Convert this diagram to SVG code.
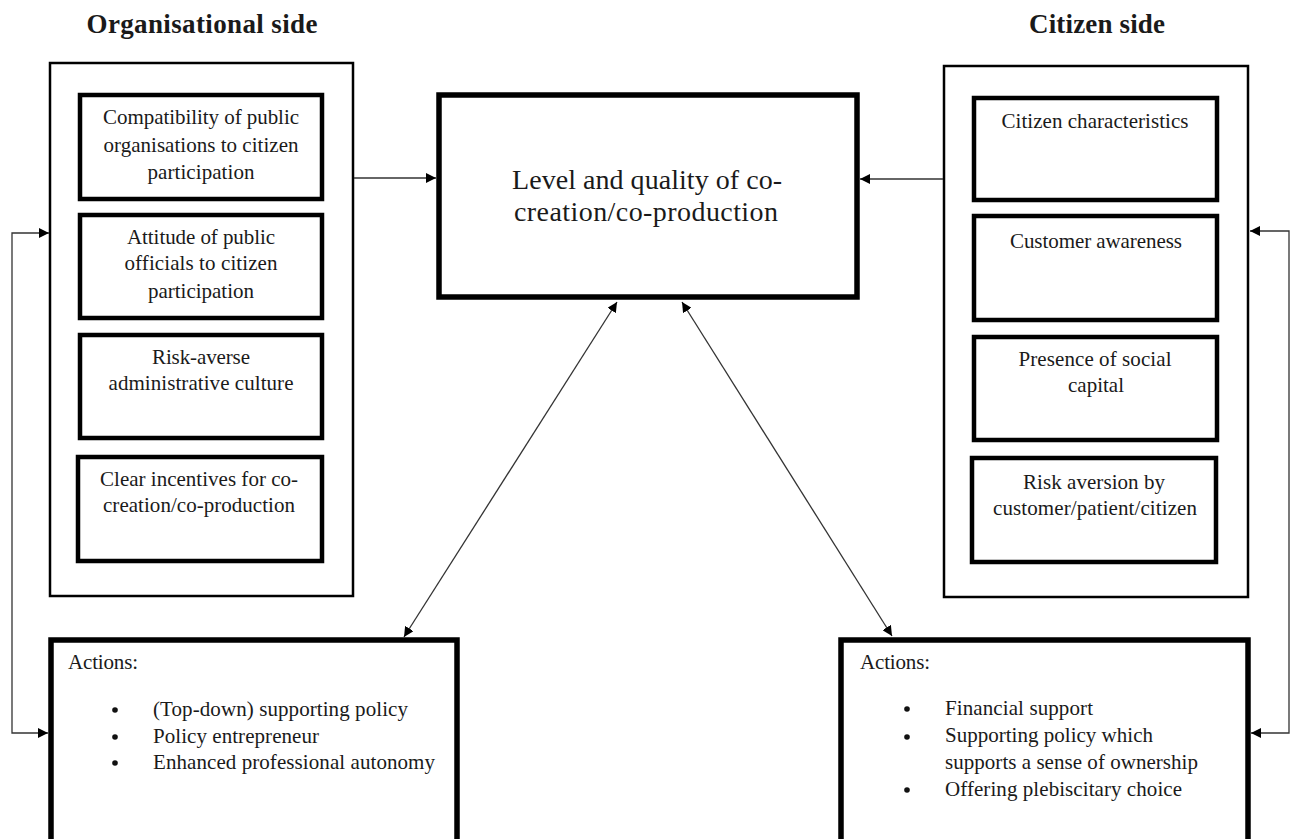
<svg xmlns="http://www.w3.org/2000/svg" width="1295" height="839" viewBox="0 0 1295 839">
  <defs>
    <marker id="arrow" viewBox="0 0 10 10" refX="10" refY="5" markerWidth="10" markerHeight="10" markerUnits="userSpaceOnUse" orient="auto-start-reverse">
      <path d="M0,0 L10,5 L0,10 Z" fill="#000"/>
    </marker>
    <style>
      text { font-family: "Liberation Serif", "Times New Roman", serif; fill: #1a1a1a; }
      .heading { font-size: 27px; font-weight: bold; text-anchor: middle; }
      .outer { fill: #fff; stroke: #000; stroke-width: 2.5; }
      .inner { fill: #fff; stroke: #000; stroke-width: 4.5; }
      .thick { fill: #fff; stroke: #000; stroke-width: 5.5; }
      .label { font-size: 21px; text-anchor: middle; }
      .center-label { font-size: 28px; text-anchor: middle; }
      .item { font-size: 21px; }
      .conn { fill: none; stroke: #333; stroke-width: 1.3; }
    </style>
  </defs>
  <rect width="1295" height="839" fill="#fff"/>

  <!-- Side headings -->
  <text class="heading" x="202" y="33" textLength="231">Organisational side</text>
  <text class="heading" x="1097" y="33" textLength="136">Citizen side</text>

  <!-- Organisational side: container and factors -->
  <g id="org-side">
    <rect class="outer" x="50" y="63" width="303" height="533"/>
  </g>
  <g id="org-compatibility">
    <rect class="inner" x="80" y="95" width="242" height="104"/>
    <text class="label" x="201" y="124" textLength="196">Compatibility of public</text>
    <text class="label" x="201" y="152" textLength="195">organisations to citizen</text>
    <text class="label" x="201" y="179" textLength="107">participation</text>
  </g>
  <g id="org-attitude">
    <rect class="inner" x="80" y="215" width="242" height="103"/>
    <text class="label" x="201" y="244" textLength="148">Attitude of public</text>
    <text class="label" x="201" y="270" textLength="153">officials to citizen</text>
    <text class="label" x="201" y="298" textLength="106">participation</text>
  </g>
  <g id="org-risk">
    <rect class="inner" x="80" y="335" width="242" height="103"/>
    <text class="label" x="201" y="364" textLength="98">Risk-averse</text>
    <text class="label" x="201" y="390" textLength="185">administrative culture</text>
  </g>
  <g id="org-incentives">
    <rect class="inner" x="78" y="457" width="244" height="104"/>
    <text class="label" x="199" y="486" textLength="198">Clear incentives for co-</text>
    <text class="label" x="199" y="512" textLength="192">creation/co-production</text>
  </g>

  <!-- Central outcome -->
  <g id="outcome">
    <rect class="thick" x="439" y="95" width="418" height="202"/>
    <text class="center-label" x="647" y="189" textLength="270">Level and quality of co-</text>
    <text class="center-label" x="646" y="221" textLength="264">creation/co-production</text>
  </g>

  <!-- Citizen side: container and factors -->
  <g id="citizen-side">
    <rect class="outer" x="944" y="66" width="304" height="531"/>
  </g>
  <g id="cit-characteristics">
    <rect class="inner" x="974" y="98" width="243" height="102"/>
    <text class="label" x="1095" y="128" textLength="187">Citizen characteristics</text>
  </g>
  <g id="cit-awareness">
    <rect class="inner" x="974" y="216" width="243" height="104"/>
    <text class="label" x="1096" y="248" textLength="172">Customer awareness</text>
  </g>
  <g id="cit-social-capital">
    <rect class="inner" x="974" y="337" width="243" height="103"/>
    <text class="label" x="1095" y="366" textLength="153">Presence of social</text>
    <text class="label" x="1096" y="392" textLength="56">capital</text>
  </g>
  <g id="cit-risk">
    <rect class="inner" x="972" y="458" width="244" height="104"/>
    <text class="label" x="1094" y="489" textLength="142">Risk aversion by</text>
    <text class="label" x="1095" y="515" textLength="204">customer/patient/citizen</text>
  </g>

  <!-- Organisational actions -->
  <g id="org-actions">
    <rect class="thick" x="51" y="640" width="406" height="220"/>
    <text class="item" x="68" y="669" textLength="70">Actions:</text>
    <circle cx="115" cy="710" r="2.8" fill="#111"/>
    <circle cx="115" cy="737" r="2.8" fill="#111"/>
    <circle cx="115" cy="763" r="2.8" fill="#111"/>
    <text class="item" x="153" y="716" textLength="255">(Top-down) supporting policy</text>
    <text class="item" x="153" y="743" textLength="166">Policy entrepreneur</text>
    <text class="item" x="153" y="769" textLength="282">Enhanced professional autonomy</text>
  </g>

  <!-- Citizen actions -->
  <g id="cit-actions">
    <rect class="thick" x="841" y="640" width="407" height="220"/>
    <text class="item" x="860" y="669" textLength="70">Actions:</text>
    <circle cx="907" cy="709" r="2.8" fill="#111"/>
    <circle cx="907" cy="737" r="2.8" fill="#111"/>
    <circle cx="907" cy="790" r="2.8" fill="#111"/>
    <text class="item" x="945" y="715" textLength="148">Financial support</text>
    <text class="item" x="945" y="742" textLength="208">Supporting policy which</text>
    <text class="item" x="945" y="769" textLength="253">supports a sense of ownership</text>
    <text class="item" x="945" y="796" textLength="237">Offering plebiscitary choice</text>
  </g>

  <!-- Connectors -->
  <g id="connectors">
    <line class="conn" x1="354" y1="178" x2="436" y2="178" marker-end="url(#arrow)"/>
    <line class="conn" x1="943" y1="179" x2="860" y2="179" stroke="#777" marker-end="url(#arrow)"/>
    <line class="conn" x1="617" y1="302" x2="404" y2="637" marker-start="url(#arrow)" marker-end="url(#arrow)"/>
    <line class="conn" x1="682" y1="302" x2="892" y2="636" marker-start="url(#arrow)" marker-end="url(#arrow)"/>
    <polyline class="conn" points="49,233 12,233 12,733 48,733" marker-start="url(#arrow)" marker-end="url(#arrow)"/>
    <polyline class="conn" points="1250,231 1289,231 1289,733 1251,733" marker-start="url(#arrow)" marker-end="url(#arrow)"/>
  </g>
</svg>
